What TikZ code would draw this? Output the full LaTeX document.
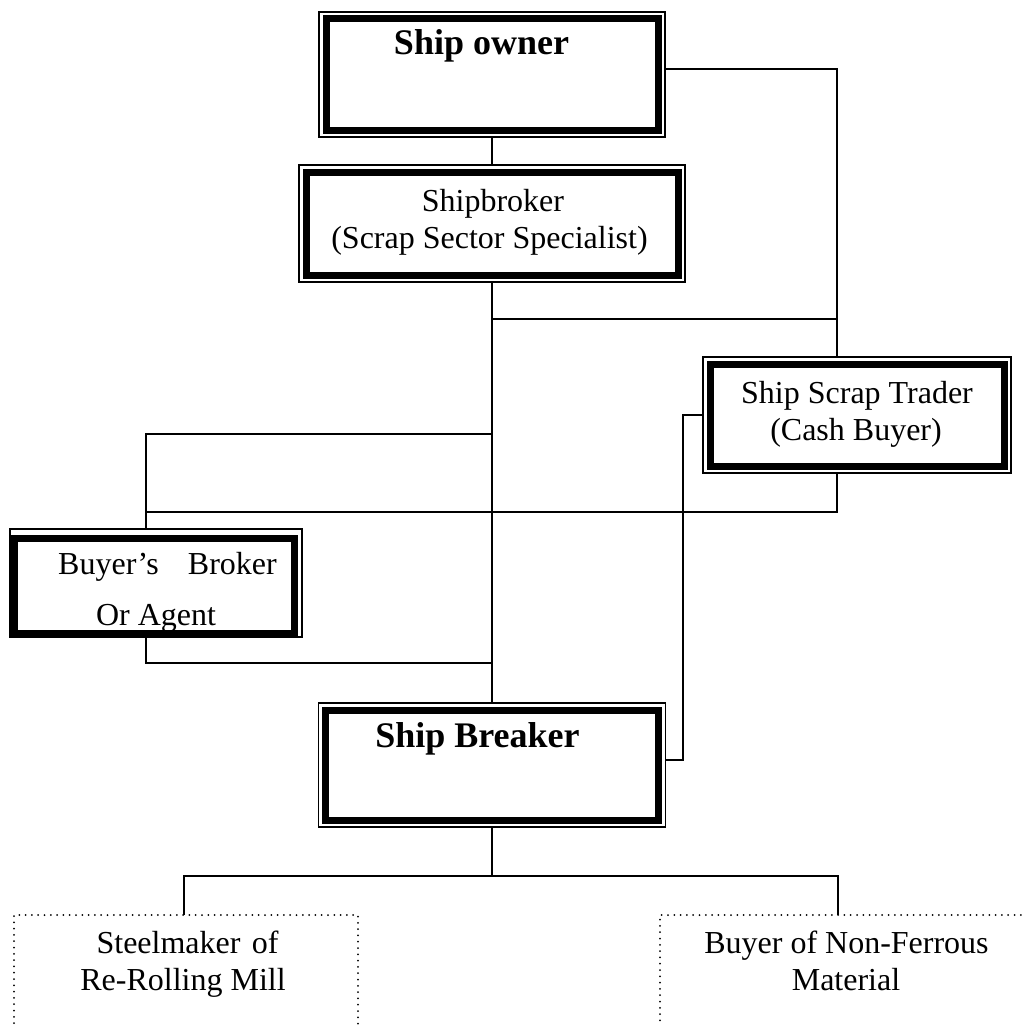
\documentclass[tikz,border=0pt]{standalone}
\usepackage{fontspec}
\setmainfont{Liberation Serif}
\begin{document}
\begin{tikzpicture}[x=1pt,y=-1pt,
  conn/.style={line width=1.6pt},
  thinbox/.style={draw, line width=1.5pt, inner sep=0pt, outer sep=0pt},
  thickframe/.style={line width=7pt},
  dotbox/.style={draw, line width=2pt, dash pattern=on 0pt off 6.3pt, line cap=round, inner sep=0pt, outer sep=0pt},
  lbl/.style={anchor=base, inner sep=0pt, font=\fontsize{32}{38}\selectfont},
  blbl/.style={anchor=base, inner sep=0pt, font=\fontsize{36}{42}\selectfont\bfseries}]
\fill[white] (0,0) rectangle (1023,1025);
\useasboundingbox (0,0) rectangle (1023,1025);

% boxes
\node[thinbox, minimum width=346pt, minimum height=125pt] (owner) at (492,74.5) {};
\node[thinbox, minimum width=386pt, minimum height=117pt] (broker) at (492,223.5) {};
\node[thinbox, minimum width=308pt, minimum height=116pt] (trader) at (857,415) {};
\node[thinbox, minimum width=292pt, minimum height=108pt] (bbroker) at (156,583) {};
\node[thinbox, minimum width=347pt, minimum height=124pt] (breaker) at (492,765) {};
\node[dotbox, minimum width=344pt, minimum height=130pt] (steel) at (186,980) {};
\node[dotbox, minimum width=380pt, minimum height=130pt] (nonfer) at (850,980) {};

\foreach \n in {owner,broker,trader,breaker}
  \draw[thickframe] ([xshift=7pt,yshift=-7pt]\n.north west) rectangle ([xshift=-7pt,yshift=7pt]\n.south east);
\draw[thickframe] ([xshift=4.5pt,yshift=-9.5pt]bbroker.north west) rectangle ([xshift=-8pt,yshift=3.5pt]bbroker.south east);

% texts
\node[blbl] (ownerT) at (481.5,55) {Ship owner};
\node[lbl] (brokerT1) at (493,211) {Shipbroker};
\node[lbl] (brokerT2) at (489.5,248) {(Scrap Sector Specialist)};
\node[lbl] (traderT1) at (857,403) {Ship Scrap Trader};
\node[lbl] (traderT2) at (856,440) {(Cash Buyer)};
\node[lbl, anchor=base west] (bbT1) at (58,574) {Buyer’s};
\node[lbl, anchor=base east] (bbT2) at (277,574) {Broker};
\node[lbl] (bbT3) at (156,625) {Or Agent};
\node[blbl] (breakerT) at (477.5,747) {Ship Breaker};
\node[lbl] (steelT1) at (187.5,953) {Steelmaker\hspace{0.35em}of};
\node[lbl] (steelT2) at (183,990) {Re-Rolling Mill};
\node[lbl] (nonferT1) at (846.5,953) {Buyer of Non-Ferrous};
\node[lbl] (nonferT2) at (846,990) {Material};

% junction coordinates
\coordinate (trin) at ([xshift=-20pt]trader.north);
\coordinate (trout) at ([xshift=-20pt]trader.south);
\coordinate (bbin) at ([xshift=-10pt]bbroker.north);
\coordinate (bbout) at ([xshift=-10pt]bbroker.south);
\coordinate (j1) at (492,319);
\coordinate (jA) at (492,434);
\coordinate (jB) at (146,512);
\coordinate (jC) at (492,663);
\coordinate (jD) at (492,876);

% connectors
\draw[conn] (owner.south) -- (broker.north);
\draw[conn] (broker.south) -- (breaker.north);
\draw[conn] ([yshift=5.5pt]owner.east) -| (trin);
\draw[conn] (j1) -- (j1 -| trin);
\draw[conn] (jA) -| (bbin);
\draw[conn] (trout) |- (jB);
\draw[conn] (bbout) |- (jC);
\draw[conn] (trader.west) -- ++(-20,0) |- ([yshift=5pt]breaker.east);
\draw[conn] (breaker.south) -- (jD);
\draw[conn] ([xshift=-2pt]steel.north) |- (jD) -| ([xshift=-12pt]nonfer.north);
\end{tikzpicture}
\end{document}
